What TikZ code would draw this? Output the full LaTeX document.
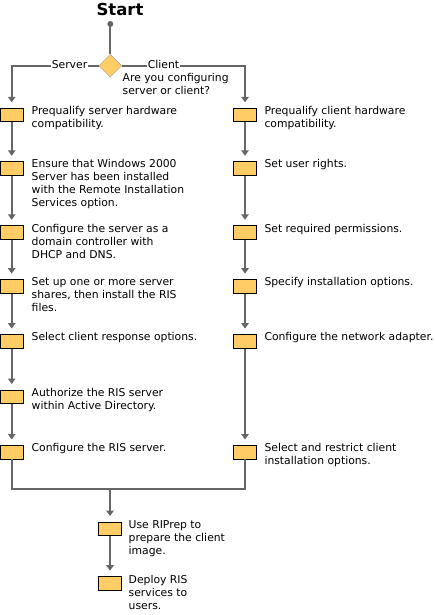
\documentclass[tikz,border=0pt]{standalone}
\usepackage{fontspec}
\setmainfont{DejaVu Sans}
\usetikzlibrary{arrows.meta,shapes.geometric}
\definecolor{boxfill}{HTML}{FFCC66}
\definecolor{linegray}{HTML}{666666}
\tikzset{
  stepbox/.style={draw=black,line width=0.9pt,fill=boxfill,minimum width=23pt,minimum height=13.5pt,inner sep=0pt},
  steptext/.style={anchor=north west,inner sep=0pt,align=left,font=\fontsize{10.8}{13}\selectfont},
  conn/.style={draw=linegray,line width=2pt},
  arr/.style={conn,-{Triangle[width=7.5pt,length=5.5pt]},shorten >=5.5pt},
  lbl/.style={fill=white,inner sep=1pt,font=\fontsize{10.8}{13}\selectfont},
}
\begin{document}
\begin{tikzpicture}[x=1pt,y=-1pt]
\useasboundingbox (0,0) rectangle (435,615);
% start
\node[font=\bfseries\fontsize{16.5}{18}\selectfont,inner sep=0pt] (start) at (120,9) {Start};
\node[circle,fill=linegray,minimum size=6pt,inner sep=0pt] (sdot) at (110.3,24) {};
\node[diamond,fill=boxfill,draw=linegray!60,line width=0.4pt,minimum width=23pt,minimum height=23pt,inner sep=0pt] (dec) at (110.3,65.7) {};
\node[steptext] (q) at (122.5,73.5) {Are you configuring\\server or client?};
\coordinate (lcorner) at (11.7,65.7);
\coordinate (rcorner) at (245,65.7);
% left column
\node[stepbox] (L1) at (11.7,115) {};
\node[stepbox] (L2) at (11.7,168.5) {};
\node[stepbox] (L3) at (11.7,232.5) {};
\node[stepbox] (L4) at (11.7,286.3) {};
\node[stepbox] (L5) at (11.7,341.3) {};
\node[stepbox] (L6) at (11.7,396.7) {};
\node[stepbox] (L7) at (11.7,452.2) {};
\node[steptext] (tL1) at (31.5,106.5) {Prequalify server hardware\\compatibility.};
\node[steptext] (tL2) at (31.5,159.5) {Ensure that Windows 2000\\Server has been installed\\with the Remote Installation\\Services option.};
\node[steptext] (tL3) at (31.5,224) {Configure the server as a\\domain controller with\\DHCP and DNS.};
\node[steptext] (tL4) at (31.5,277.5) {Set up one or more server\\shares, then install the RIS\\files.};
\node[steptext] (tL5) at (31.5,332.5) {Select client response options.};
\node[steptext] (tL6) at (31.5,388) {Authorize the RIS server\\within Active Directory.};
\node[steptext] (tL7) at (31.5,443.5) {Configure the RIS server.};
% right column
\node[stepbox] (R1) at (245,115) {};
\node[stepbox] (R2) at (245,168.5) {};
\node[stepbox] (R3) at (245,232.5) {};
\node[stepbox] (R4) at (245,286.3) {};
\node[stepbox] (R5) at (245,341.3) {};
\node[stepbox] (R6) at (245,452.2) {};
\node[steptext] (tR1) at (264.3,106.5) {Prequalify client hardware\\compatibility.};
\node[steptext] (tR2) at (264.3,159.5) {Set user rights.};
\node[steptext] (tR3) at (264.3,224) {Set required permissions.};
\node[steptext] (tR4) at (264.3,277.5) {Specify installation options.};
\node[steptext] (tR5) at (264.3,332.5) {Configure the network adapter.};
\node[steptext] (tR6) at (264.3,443.5) {Select and restrict client\\installation options.};
% bottom
\coordinate (merge) at (110,488.5);
\node[stepbox] (B1) at (110,528.7) {};
\node[stepbox] (B2) at (110,583.4) {};
\node[steptext] (tB1) at (128.5,520) {Use RIPrep to\\prepare the client\\image.};
\node[steptext] (tB2) at (128.5,575) {Deploy RIS\\services to\\users.};
% connectors
\draw[conn] (sdot) -- (dec.north);
\draw[arr] (dec.west) -- (lcorner) -- (L1.north);
\draw[arr] (dec.east) -- (rcorner) -- (R1.north);
\node[lbl] (srv) at (69.5,64.5) {Server};
\node[lbl] (cli) at (163.5,64.5) {Client};
\draw[arr] (L1.south) -- (L2.north);
\draw[arr] (L2.south) -- (L3.north);
\draw[arr] (L3.south) -- (L4.north);
\draw[arr] (L4.south) -- (L5.north);
\draw[arr] (L5.south) -- (L6.north);
\draw[arr] (L6.south) -- (L7.north);
\draw[arr] (R1.south) -- (R2.north);
\draw[arr] (R2.south) -- (R3.north);
\draw[arr] (R3.south) -- (R4.north);
\draw[arr] (R4.south) -- (R5.north);
\draw[arr] (R5.south) -- (R6.north);
\draw[conn] (L7.south) |- (merge) -| (R6.south);
\draw[arr] (merge) -- (B1.north);
\draw[arr] (B1.south) -- (B2.north);
\end{tikzpicture}
\end{document}
